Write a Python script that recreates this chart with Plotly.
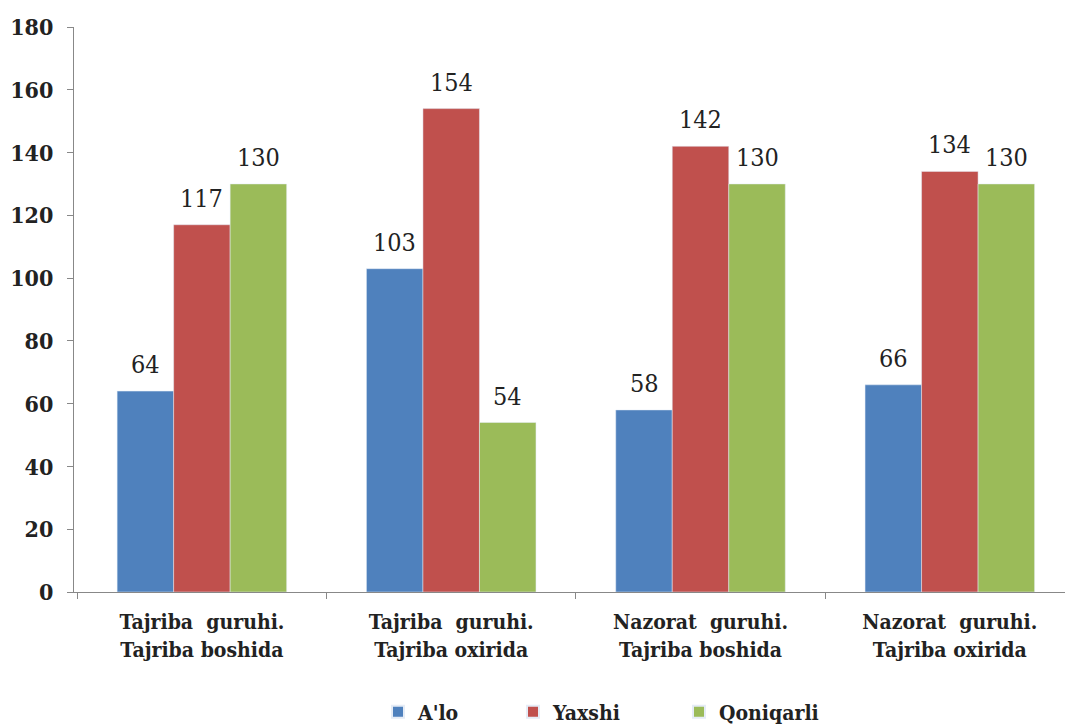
import plotly.graph_objects as go

categories = ["Tajriba  guruhi.<br>Tajriba boshida", "Tajriba  guruhi.<br>Tajriba oxirida",
              "Nazorat  guruhi.<br>Tajriba boshida", "Nazorat  guruhi.<br>Tajriba oxirida"]
series_names = ["A'lo", "Yaxshi", "Qoniqarli"]
alo = [64, 103, 58, 66]
yaxshi = [117, 154, 142, 134]
qoniqarli = [130, 54, 130, 130]
colors = ["#4F81BD", "#C0504D", "#9BBB59"]
y_ticks = [0, 20, 40, 60, 80, 100, 120, 140, 160, 180]

SERIF = "DejaVu Serif Condensed, DejaVu Serif, serif"
W, H = 1065, 728
ML, MR, MT, MB = 74, 0, 27, 136
XR = [-0.513, 3.462]
BARGAP = 0.32
LEGEND_X_PX = [378, 513, 679]
legend_ids = ["legend", "legend2", "legend3"]

fig = go.Figure()
all_series = [alo, yaxshi, qoniqarli]
for name, vals, col, lid in zip(series_names, all_series, colors, legend_ids):
    fig.add_trace(go.Bar(x=categories, y=vals, name=name, marker_color=col, legend=lid))

# data labels placed above each bar (pixel offset within the group)
px_per_unit = (W - ML - MR) / (XR[1] - XR[0])
bar_px = (1 - BARGAP) / len(all_series) * px_per_unit
for i, vals in enumerate(all_series):
    for cat, v in zip(categories, vals):
        fig.add_annotation(x=cat, y=v, text=str(v), showarrow=False,
                           xshift=(i - 1) * bar_px, yshift=10, yanchor="bottom",
                           font=dict(family=SERIF, size=25, color="#222"))

legend_style = dict(orientation="h", xref="container", xanchor="left",
                    yref="container", y=0.022, yanchor="middle",
                    font=dict(family=SERIF, size=21, color="#222", weight="bold"),
                    itemsizing="constant")

layout_legends = {lid: dict(legend_style, x=px / W) for lid, px in zip(legend_ids, LEGEND_X_PX)}

fig.update_layout(
    width=W, height=H,
    margin=dict(l=ML, r=MR, t=MT, b=MB),
    plot_bgcolor="white", paper_bgcolor="white",
    barmode="group", bargap=BARGAP, bargroupgap=0,
    font=dict(family=SERIF, color="#222"),
    showlegend=True,
    xaxis=dict(range=XR, showline=True, linecolor="#888", linewidth=1,
               ticks="outside", tickson="boundaries", ticklen=6, tickcolor="#888",
               tickfont=dict(family=SERIF, size=21, color="#222", weight="bold"),
               ticklabelstandoff=11, showgrid=False, automargin=False),
    yaxis=dict(range=[0, 180], tickvals=y_ticks, showline=True, linecolor="#888", linewidth=1,
               ticks="outside", ticklen=6, tickcolor="#888", showgrid=False, zeroline=False,
               tickfont=dict(family=SERIF, size=23, color="#222", weight="bold"),
               ticklabelstandoff=9, automargin=False),
    **layout_legends,
)

fig.write_html("out.html", config={"displayModeBar": False},
               post_script="document.body.style.margin='0';document.body.style.overflow='hidden';")
